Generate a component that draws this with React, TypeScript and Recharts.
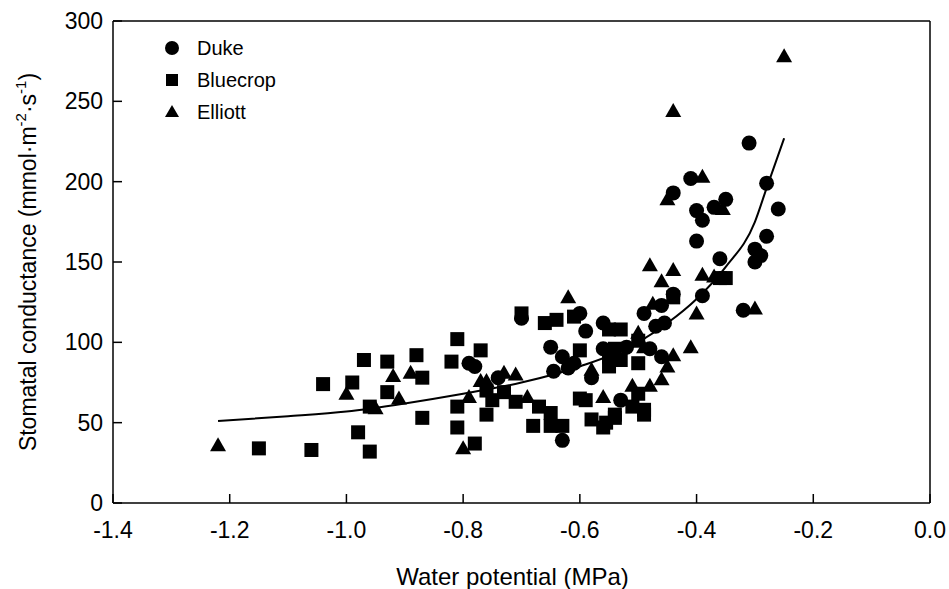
import React from "react";
import {
  ScatterChart,
  Scatter,
  XAxis,
  YAxis,
  ReferenceLine,
  Label,
} from "recharts";

// water potential (MPa), stomatal conductance (mmol m-2 s-1)
const duke: [number, number][] = [
  [-0.7, 115], [-0.6, 118], [-0.56, 112], [-0.59, 107], [-0.65, 97], [-0.63, 91],
  [-0.61, 87], [-0.645, 82], [-0.62, 84], [-0.56, 96], [-0.58, 78], [-0.63, 39],
  [-0.53, 64], [-0.79, 87], [-0.78, 85], [-0.74, 78], [-0.49, 118], [-0.46, 123],
  [-0.47, 110], [-0.455, 112], [-0.52, 97], [-0.48, 96], [-0.46, 91], [-0.44, 130],
  [-0.39, 129], [-0.36, 152], [-0.41, 202], [-0.44, 193], [-0.4, 182], [-0.39, 176],
  [-0.37, 184], [-0.35, 189], [-0.4, 163], [-0.31, 224], [-0.28, 199], [-0.26, 183],
  [-0.28, 166], [-0.3, 158], [-0.29, 154], [-0.3, 150], [-0.32, 120],
];

const bluecrop: [number, number][] = [
  [-1.15, 34], [-1.06, 33], [-1.04, 74], [-0.99, 75], [-0.97, 89], [-0.98, 44],
  [-0.96, 32], [-0.96, 60], [-0.93, 88], [-0.93, 69], [-0.88, 92], [-0.87, 78],
  [-0.87, 53], [-0.81, 102], [-0.82, 88], [-0.77, 95], [-0.81, 60], [-0.81, 47],
  [-0.78, 37], [-0.76, 70], [-0.73, 69], [-0.75, 64], [-0.76, 55], [-0.71, 63],
  [-0.67, 60], [-0.68, 48], [-0.65, 56], [-0.65, 48], [-0.63, 48], [-0.7, 118],
  [-0.66, 112], [-0.64, 114], [-0.61, 116], [-0.6, 95], [-0.6, 65], [-0.59, 64],
  [-0.58, 52], [-0.56, 47], [-0.54, 55], [-0.55, 108], [-0.53, 108], [-0.54, 96],
  [-0.55, 91], [-0.53, 89], [-0.5, 87], [-0.55, 85], [-0.5, 68], [-0.51, 60],
  [-0.49, 55], [-0.54, 53], [-0.555, 50], [-0.5, 101], [-0.49, 58], [-0.44, 128],
  [-0.36, 140], [-0.35, 140],
];

const elliott: [number, number][] = [
  [-1.22, 36], [-1.0, 68], [-0.95, 59], [-0.92, 79], [-0.91, 65], [-0.89, 81],
  [-0.8, 34], [-0.79, 66], [-0.77, 76], [-0.76, 76], [-0.73, 81], [-0.71, 80],
  [-0.69, 66], [-0.62, 128], [-0.58, 83], [-0.56, 66], [-0.51, 73], [-0.5, 106],
  [-0.48, 148], [-0.44, 145], [-0.46, 138], [-0.39, 142], [-0.475, 124], [-0.4, 118],
  [-0.41, 97], [-0.44, 92], [-0.45, 85], [-0.46, 77], [-0.48, 73], [-0.49, 97],
  [-0.39, 203], [-0.45, 189], [-0.44, 244], [-0.25, 278], [-0.3, 121], [-0.355, 183],
  [-0.37, 141],
];

// fitted curve
const fitX = [-1.22, -1.1, -1.0, -0.9, -0.8, -0.7, -0.6, -0.5, -0.45, -0.4, -0.35, -0.3, -0.28, -0.25];
const fitY = [51, 54, 57, 62, 68, 75, 85, 100, 112, 127, 147, 175, 196, 227];

const xTicks = [-1.4, -1.2, -1.0, -0.8, -0.6, -0.4, -0.2, 0];
const yTicks = [0, 50, 100, 150, 200, 250, 300];

const FONT = "'Liberation Sans', Arial, sans-serif";

const toPts = (arr: [number, number][]) => arr.map(([x, y]) => ({ x, y }));
const fitData = fitX.map((x, i) => ({ x, y: fitY[i] }));

const Dot = (p: any) => <circle cx={p.cx} cy={p.cy} r={7.5} fill="#000" />;
const Sq = (p: any) => <rect x={p.cx - 7} y={p.cy - 7} width={14} height={14} fill="#000" />;
const Tri = (p: any) => (
  <polygon
    points={`${p.cx},${p.cy - 8} ${p.cx + 8},${p.cy + 6} ${p.cx - 8},${p.cy + 6}`}
    fill="#000"
  />
);

const YTitle = () => (
  <text
    x={28}
    y={262}
    transform="rotate(-90, 28, 262)"
    textAnchor="middle"
    dominantBaseline="central"
    fontFamily={FONT}
    fontSize={23}
    fill="#000"
  >
    Stomatal conductance (mmol·m
    <tspan dy={-8} fontSize={15}>-2</tspan>
    <tspan dy={8}>·s</tspan>
    <tspan dy={-8} fontSize={15}>-1</tspan>
    <tspan dy={8}>)</tspan>
  </text>
);

const legendItems = [
  { name: "Duke", shape: "circle" },
  { name: "Bluecrop", shape: "square" },
  { name: "Elliott", shape: "triangle" },
];

export default function App() {
  return (
    <div style={{ position: "absolute", left: 0, top: 0, width: 949, height: 589, background: "#fff" }}>
      <ScatterChart width={949} height={589} margin={{ top: 21, right: 19, bottom: 0, left: 0 }}>
        <XAxis
          type="number"
          dataKey="x"
          domain={[-1.4, 0]}
          ticks={xTicks}
          tickFormatter={(v: number) => v.toFixed(1)}
          height={86}
          stroke="#000"
          strokeWidth={1.5}
          tickSize={-9}
          tickMargin={28}
          tick={{ fill: "#000", fontSize: 23, fontFamily: FONT }}
          allowDataOverflow
        >
          <Label
            value="Water potential (MPa)"
            position="insideBottom"
            offset={4}
            dx={-9}
            style={{ fill: "#000", fontSize: 24, fontFamily: FONT }}
          />
        </XAxis>
        <YAxis
          type="number"
          dataKey="y"
          domain={[0, 300]}
          ticks={yTicks}
          width={113}
          stroke="#000"
          strokeWidth={1.5}
          tickSize={-9}
          tickMargin={19}
          tick={{ fill: "#000", fontSize: 23, fontFamily: FONT }}
          allowDataOverflow
        >
          <Label content={YTitle} />
        </YAxis>
        <ReferenceLine y={300} stroke="#000" strokeWidth={1.5} />
        <ReferenceLine x={0} stroke="#000" strokeWidth={1.5} />
        <Scatter
          name="fit"
          data={fitData}
          line={{ stroke: "#000", strokeWidth: 2 }}
          lineType="joint"
          lineJointType="monotoneX"
          shape={() => <g />}
          isAnimationActive={false}
        />
        <Scatter name="Bluecrop" data={toPts(bluecrop)} shape={Sq} isAnimationActive={false} />
        <Scatter name="Elliott" data={toPts(elliott)} shape={Tri} isAnimationActive={false} />
        <Scatter name="Duke" data={toPts(duke)} shape={Dot} isAnimationActive={false} />
      </ScatterChart>
      <div style={{ position: "absolute", left: 160, top: 32, fontFamily: FONT, fontSize: 20 }}>
        {legendItems.map((it) => (
          <div key={it.name} style={{ display: "flex", alignItems: "center", height: 32 }}>
            <svg width={26} height={20}>
              {it.shape === "circle" && <circle cx={12} cy={10} r={7} fill="#000" />}
              {it.shape === "square" && <rect x={6} y={4} width={12} height={12} fill="#000" />}
              {it.shape === "triangle" && <polygon points="12,3 19,15 5,15" fill="#000" />}
            </svg>
            <span style={{ marginLeft: 11 }}>{it.name}</span>
          </div>
        ))}
      </div>
    </div>
  );
}
